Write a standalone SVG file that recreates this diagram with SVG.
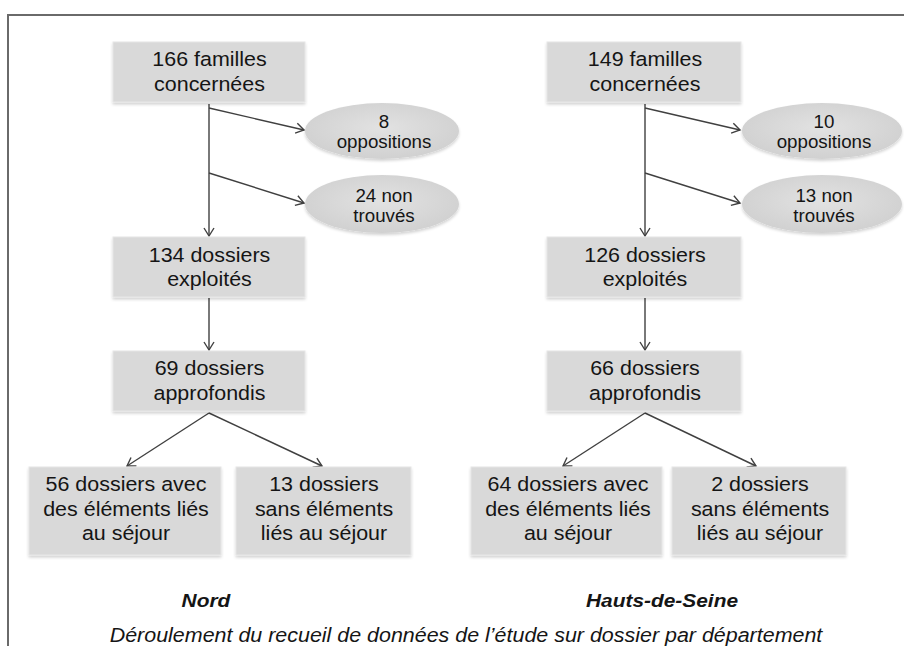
<svg xmlns="http://www.w3.org/2000/svg" width="904" height="646" viewBox="0 0 904 646">
<defs>
<style>
.box{fill:#d9d9d9;stroke:#e6e6e6;stroke-width:1;filter:url(#sh)}
.ell{fill:url(#eg);filter:url(#sh)}
.t{font-family:"Liberation Sans",Arial,sans-serif;font-size:19.5px;fill:#151515;text-anchor:middle}
.te{font-family:"Liberation Sans",Arial,sans-serif;font-size:17.5px;fill:#151515;text-anchor:middle}
.lbl{font-family:"Liberation Sans",Arial,sans-serif;font-size:19px;font-weight:bold;font-style:italic;fill:#151515;text-anchor:middle}
.cap{font-family:"Liberation Sans",Arial,sans-serif;font-size:19.5px;font-style:italic;fill:#151515;text-anchor:middle}
.c{fill:none;stroke:#404040;stroke-width:1.4;marker-end:url(#ah)}
</style>
<marker id="ah" markerWidth="12" markerHeight="12" refX="10" refY="6" orient="auto" markerUnits="userSpaceOnUse">
<path d="M2,1 L10,6 L2,11" fill="none" stroke="#404040" stroke-width="1.4"/>
</marker>
<radialGradient id="eg" cx="50%" cy="45%" r="60%">
<stop offset="0" stop-color="#e2e2e2"/>
<stop offset="1" stop-color="#cfcfcf"/>
</radialGradient>
<filter id="sh" x="-10%" y="-10%" width="120%" height="130%">
<feGaussianBlur in="SourceAlpha" stdDeviation="1.5"/>
<feOffset dx="0" dy="2" result="b"/>
<feComponentTransfer><feFuncA type="linear" slope="0.18"/></feComponentTransfer>
<feMerge><feMergeNode/><feMergeNode in="SourceGraphic"/></feMerge>
</filter>
</defs>
<rect width="904" height="646" fill="#ffffff"/>
<rect id="frame" x="8" y="15" width="910" height="660" fill="none" stroke="#6a6a6a" stroke-width="2"/>

<g id="connectors">
<path class="c" d="M209,104 L209,236"/>
<path class="c" d="M209,108 L304,130"/>
<path class="c" d="M209,173 L304,203"/>
<path class="c" d="M209,298 L209,350"/>
<path class="c" d="M209,413 L127,466"/>
<path class="c" d="M209,413 L322,466"/>
<path class="c" d="M645,104 L645,236"/>
<path class="c" d="M645,108 L740,130"/>
<path class="c" d="M645,173 L740,203"/>
<path class="c" d="M645,298 L645,350"/>
<path class="c" d="M645,413 L563,466"/>
<path class="c" d="M645,413 L756,466"/>
</g>

<g id="n-nord-familles">
<rect class="box" x="113" y="42" width="192" height="60"/>
<text class="t" transform="translate(209.5 0) scale(1.1 1)"><tspan x="0" y="66.5">166 familles</tspan><tspan x="0" y="91">concernées</tspan></text>
</g>
<g id="n-nord-oppositions">
<ellipse class="ell" cx="382" cy="131" rx="77" ry="28"/>
<text class="te" transform="translate(384 0) scale(1.07 1)"><tspan x="0" y="128">8</tspan><tspan x="0" y="148">oppositions</tspan></text>
</g>
<g id="n-nord-nontrouves">
<ellipse class="ell" cx="382" cy="204" rx="77" ry="29"/>
<text class="te" transform="translate(384 0) scale(1.07 1)"><tspan x="0" y="202">24 non</tspan><tspan x="0" y="222">trouvés</tspan></text>
</g>
<g id="n-nord-exploites">
<rect class="box" x="113" y="237" width="192" height="60"/>
<text class="t" transform="translate(209.5 0) scale(1.1 1)"><tspan x="0" y="262">134 dossiers</tspan><tspan x="0" y="286">exploités</tspan></text>
</g>
<g id="n-nord-approfondis">
<rect class="box" x="113" y="351" width="192" height="60"/>
<text class="t" transform="translate(209.5 0) scale(1.1 1)"><tspan x="0" y="375">69 dossiers</tspan><tspan x="0" y="400">approfondis</tspan></text>
</g>
<g id="n-nord-avec">
<rect class="box" x="29" y="467" width="192" height="88"/>
<text class="t" transform="translate(126 0) scale(1.1 1)"><tspan x="0" y="491">56 dossiers avec</tspan><tspan x="0" y="516">des éléments liés</tspan><tspan x="0" y="540">au séjour</tspan></text>
</g>
<g id="n-nord-sans">
<rect class="box" x="236" y="467" width="175" height="88"/>
<text class="t" transform="translate(324 0) scale(1.1 1)"><tspan x="0" y="491">13 dossiers</tspan><tspan x="0" y="516">sans éléments</tspan><tspan x="0" y="540">liés au séjour</tspan></text>
</g>

<g id="n-hds-familles">
<rect class="box" x="547" y="42" width="194" height="60"/>
<text class="t" transform="translate(645 0) scale(1.1 1)"><tspan x="0" y="66.5">149 familles</tspan><tspan x="0" y="91">concernées</tspan></text>
</g>
<g id="n-hds-oppositions">
<ellipse class="ell" cx="822" cy="131" rx="80" ry="28"/>
<text class="te" transform="translate(824 0) scale(1.07 1)"><tspan x="0" y="128">10</tspan><tspan x="0" y="148">oppositions</tspan></text>
</g>
<g id="n-hds-nontrouves">
<ellipse class="ell" cx="822" cy="204" rx="80" ry="29"/>
<text class="te" transform="translate(824 0) scale(1.07 1)"><tspan x="0" y="202">13 non</tspan><tspan x="0" y="222">trouvés</tspan></text>
</g>
<g id="n-hds-exploites">
<rect class="box" x="547" y="237" width="194" height="60"/>
<text class="t" transform="translate(645 0) scale(1.1 1)"><tspan x="0" y="262">126 dossiers</tspan><tspan x="0" y="286">exploités</tspan></text>
</g>
<g id="n-hds-approfondis">
<rect class="box" x="547" y="351" width="194" height="60"/>
<text class="t" transform="translate(645 0) scale(1.1 1)"><tspan x="0" y="375">66 dossiers</tspan><tspan x="0" y="400">approfondis</tspan></text>
</g>
<g id="n-hds-avec">
<rect class="box" x="471" y="467" width="191" height="88"/>
<text class="t" transform="translate(568 0) scale(1.1 1)"><tspan x="0" y="491">64 dossiers avec</tspan><tspan x="0" y="516">des éléments liés</tspan><tspan x="0" y="540">au séjour</tspan></text>
</g>
<g id="n-hds-sans">
<rect class="box" x="672" y="467" width="174" height="88"/>
<text class="t" transform="translate(760 0) scale(1.1 1)"><tspan x="0" y="491">2 dossiers</tspan><tspan x="0" y="516">sans éléments</tspan><tspan x="0" y="540">liés au séjour</tspan></text>
</g>

<g id="labels">
<text class="lbl" transform="translate(206 0) scale(1.1 1)" x="0" y="607">Nord</text>
<text class="lbl" transform="translate(662 0) scale(1.1 1)" x="0" y="607">Hauts-de-Seine</text>
<text class="cap" transform="translate(466 0) scale(1.1 1)" x="0" y="642">Déroulement du recueil de données de l’étude sur dossier par département</text>
</g>
</svg>
